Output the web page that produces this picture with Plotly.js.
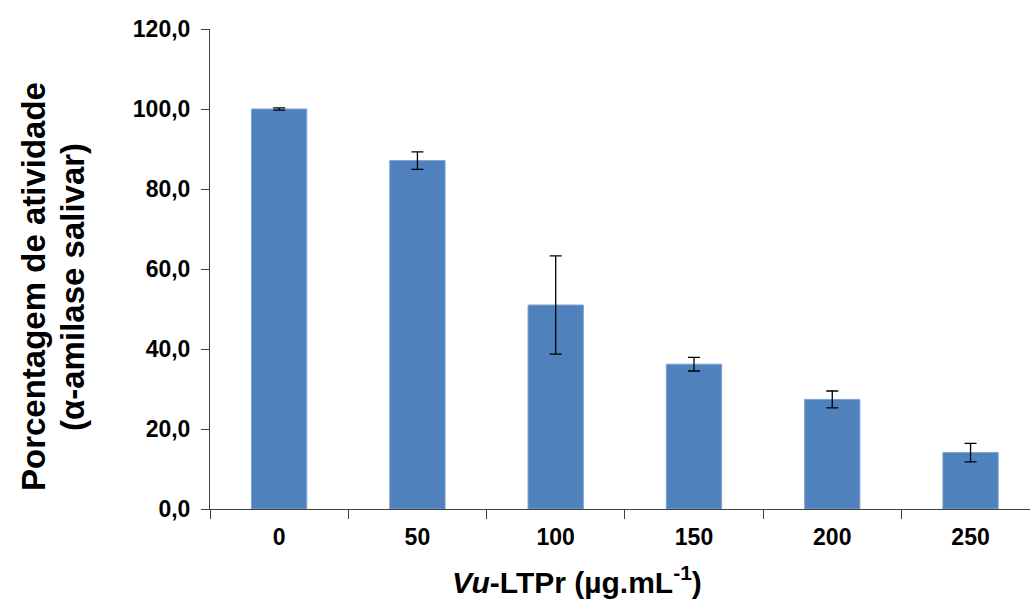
<!DOCTYPE html>
<html>
<head>
<meta charset="utf-8">
<script src="https://cdn.plot.ly/plotly-3.0.1.min.js"></script>
<style>html,body{margin:0;padding:0;background:#fff;overflow:hidden}</style>
</head>
<body>
<div id="chart" style="width:1030px;height:601px"></div>
<script>
const categories = ["0", "50", "100", "150", "200", "250"];
const activity = [100.0, 87.1, 51.0, 36.2, 27.4, 14.1];
const errors = [0.3, 2.2, 12.3, 1.7, 2.1, 2.3];
const yTickValues = [0, 20, 40, 60, 80, 100, 120];
const yTickLabels = ["0,0", "20,0", "40,0", "60,0", "80,0", "100,0", "120,0"];

const FONT = "Liberation Sans, Arial, sans-serif";

const trace = {
  type: "bar",
  x: categories,
  y: activity,
  marker: {color: "#4F81BD", line: {color: "#7FA3D1", width: 1}},
  error_y: {type: "data", array: errors, visible: true, color: "#000000", thickness: 1.3, width: 6},
  hoverinfo: "skip"
};

const layout = {
  width: 1030,
  height: 601,
  margin: {l: 210, r: 0, t: 29, b: 92},
  paper_bgcolor: "#ffffff",
  plot_bgcolor: "#ffffff",
  bargap: 0.6,
  showlegend: false,
  xaxis: {
    type: "category",
    range: [-0.5, 5.43],
    showline: true, linecolor: "#404040", linewidth: 1,
    ticks: "outside", tickson: "boundaries", ticklen: 9, tickcolor: "#404040", tickwidth: 1,
    tickfont: {family: FONT, size: 23, color: "#000", weight: "bold"},
    ticklabelstandoff: 7,
    showgrid: false, zeroline: false
  },
  yaxis: {
    range: [0, 120],
    tickvals: yTickValues,
    ticktext: yTickLabels,
    showline: true, linecolor: "#404040", linewidth: 1,
    ticks: "outside", ticklen: 8, tickcolor: "#404040", tickwidth: 1,
    tickfont: {family: FONT, size: 23, color: "#000", weight: "bold"},
    ticklabelstandoff: 6,
    showgrid: false, zeroline: false
  },
  annotations: [
    {
      text: "<i>Vu</i>-LTPr (µg.mL<sup>-1</sup>)",
      xref: "paper", yref: "paper", x: 0, y: 0,
      xanchor: "center", yanchor: "middle",
      xshift: 367, yshift: -71, showarrow: false,
      font: {family: FONT, size: 30, color: "#000", weight: "bold"}
    },
    {
      text: "Porcentagem de atividade",
      xref: "paper", yref: "paper", x: 0, y: 0.5,
      xanchor: "center", yanchor: "middle", textangle: -90,
      xshift: -177, yshift: -18, showarrow: false,
      font: {family: FONT, size: 33, color: "#000", weight: "bold"}
    },
    {
      text: "(α-amilase salivar)",
      xref: "paper", yref: "paper", x: 0, y: 0.5,
      xanchor: "center", yanchor: "middle", textangle: -90,
      xshift: -138, yshift: -18, showarrow: false,
      font: {family: FONT, size: 33, color: "#000", weight: "bold"}
    }
  ]
};

Plotly.newPlot("chart", [trace], layout, {displayModeBar: false, staticPlot: true});
</script>
</body>
</html>
